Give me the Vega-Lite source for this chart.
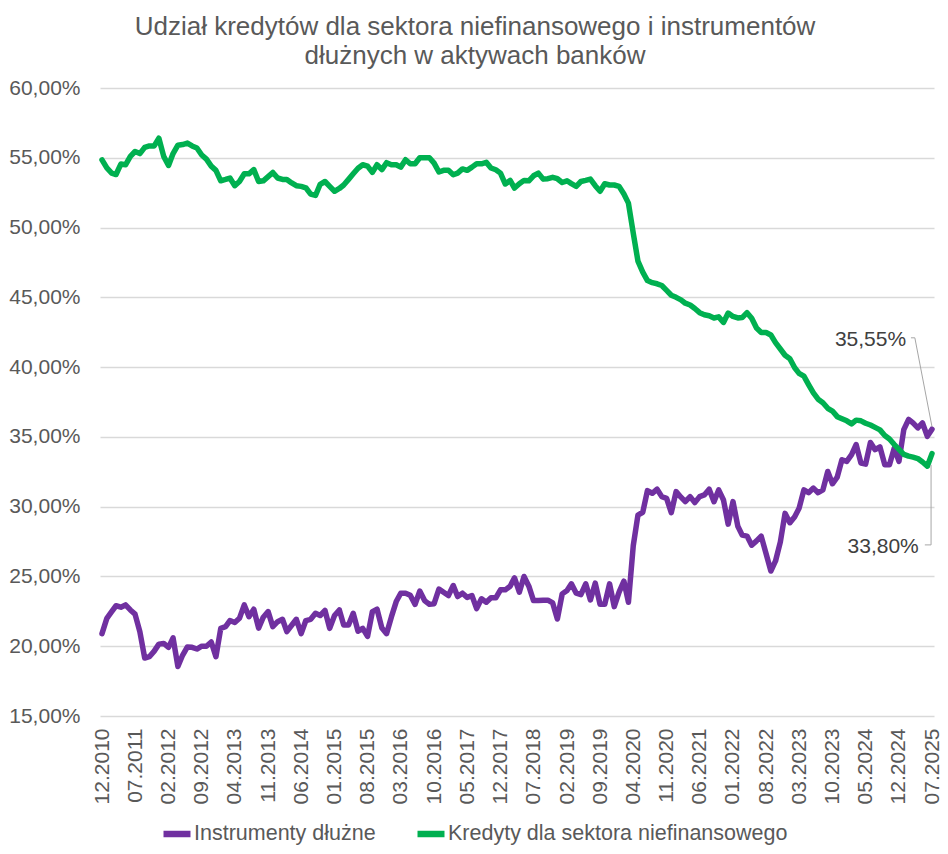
{
  "$schema": "https://vega.github.io/schema/vega-lite/v6.json",
  "width": 834,
  "height": 628,
  "autosize": {"type": "none"},
  "padding": {"left": 100, "top": 88, "right": 14, "bottom": 138},
  "background": "white",
  "config": {
    "font": "Liberation Sans",
    "view": {"stroke": null},
    "axis": {"labelOverlap": false}
  },
  "title": {
    "text": ["Udział kredytów dla sektora niefinansowego i instrumentów", "dłużnych w aktywach banków"],
    "fontSize": 26,
    "fontWeight": "normal",
    "color": "#595959",
    "lineHeight": 29,
    "anchor": "middle",
    "dx": -42,
    "offset": 8
  },
  "datasets": {
    "main": [
      {"d": "2010-12-01", "i": 20.9, "k": 54.85},
      {"d": "2011-01-01", "i": 22.0, "k": 54.27},
      {"d": "2011-02-01", "i": 22.48, "k": 53.9},
      {"d": "2011-03-01", "i": 22.9, "k": 53.8},
      {"d": "2011-04-01", "i": 22.8, "k": 54.55},
      {"d": "2011-05-01", "i": 22.96, "k": 54.5},
      {"d": "2011-06-01", "i": 22.6, "k": 55.1},
      {"d": "2011-07-01", "i": 22.3, "k": 55.45},
      {"d": "2011-08-01", "i": 21.04, "k": 55.3},
      {"d": "2011-09-01", "i": 19.15, "k": 55.75},
      {"d": "2011-10-01", "i": 19.25, "k": 55.85},
      {"d": "2011-11-01", "i": 19.65, "k": 55.85},
      {"d": "2011-12-01", "i": 20.15, "k": 56.4},
      {"d": "2012-01-01", "i": 20.2, "k": 55.1},
      {"d": "2012-02-01", "i": 19.92, "k": 54.45},
      {"d": "2012-03-01", "i": 20.6, "k": 55.3},
      {"d": "2012-04-01", "i": 18.55, "k": 55.9},
      {"d": "2012-05-01", "i": 19.35, "k": 55.95},
      {"d": "2012-06-01", "i": 19.95, "k": 56.05},
      {"d": "2012-07-01", "i": 19.92, "k": 55.85},
      {"d": "2012-08-01", "i": 19.8, "k": 55.7},
      {"d": "2012-09-01", "i": 20.0, "k": 55.2},
      {"d": "2012-10-01", "i": 20.0, "k": 54.9},
      {"d": "2012-11-01", "i": 20.3, "k": 54.4},
      {"d": "2012-12-01", "i": 19.25, "k": 54.1},
      {"d": "2013-01-01", "i": 21.28, "k": 53.35},
      {"d": "2013-02-01", "i": 21.4, "k": 53.45},
      {"d": "2013-03-01", "i": 21.84, "k": 53.55},
      {"d": "2013-04-01", "i": 21.7, "k": 53.0},
      {"d": "2013-05-01", "i": 22.0, "k": 53.3},
      {"d": "2013-06-01", "i": 22.96, "k": 53.85},
      {"d": "2013-07-01", "i": 22.12, "k": 53.85},
      {"d": "2013-08-01", "i": 22.65, "k": 54.15},
      {"d": "2013-09-01", "i": 21.3, "k": 53.3},
      {"d": "2013-10-01", "i": 22.08, "k": 53.35},
      {"d": "2013-11-01", "i": 22.48, "k": 53.65},
      {"d": "2013-12-01", "i": 21.4, "k": 53.95},
      {"d": "2014-01-01", "i": 21.76, "k": 53.55},
      {"d": "2014-02-01", "i": 21.93, "k": 53.45},
      {"d": "2014-03-01", "i": 21.05, "k": 53.45},
      {"d": "2014-04-01", "i": 21.5, "k": 53.2},
      {"d": "2014-05-01", "i": 21.93, "k": 53.0},
      {"d": "2014-06-01", "i": 20.9, "k": 52.95},
      {"d": "2014-07-01", "i": 21.84, "k": 52.85},
      {"d": "2014-08-01", "i": 21.93, "k": 52.4},
      {"d": "2014-09-01", "i": 22.36, "k": 52.3},
      {"d": "2014-10-01", "i": 22.2, "k": 53.1},
      {"d": "2014-11-01", "i": 22.56, "k": 53.3},
      {"d": "2014-12-01", "i": 21.28, "k": 52.95},
      {"d": "2015-01-01", "i": 22.2, "k": 52.6},
      {"d": "2015-02-01", "i": 22.6, "k": 52.8},
      {"d": "2015-03-01", "i": 21.52, "k": 53.05},
      {"d": "2015-04-01", "i": 21.52, "k": 53.45},
      {"d": "2015-05-01", "i": 22.36, "k": 53.85},
      {"d": "2015-06-01", "i": 21.07, "k": 54.25},
      {"d": "2015-07-01", "i": 21.28, "k": 54.5},
      {"d": "2015-08-01", "i": 20.7, "k": 54.4},
      {"d": "2015-09-01", "i": 22.48, "k": 53.95},
      {"d": "2015-10-01", "i": 22.65, "k": 54.5},
      {"d": "2015-11-01", "i": 21.3, "k": 54.15},
      {"d": "2015-12-01", "i": 20.9, "k": 54.65},
      {"d": "2016-01-01", "i": 22.1, "k": 54.5},
      {"d": "2016-02-01", "i": 23.2, "k": 54.5},
      {"d": "2016-03-01", "i": 23.8, "k": 54.33},
      {"d": "2016-04-01", "i": 23.8, "k": 54.86},
      {"d": "2016-05-01", "i": 23.65, "k": 54.57},
      {"d": "2016-06-01", "i": 23.0, "k": 54.57},
      {"d": "2016-07-01", "i": 23.95, "k": 55.0},
      {"d": "2016-08-01", "i": 23.27, "k": 55.0},
      {"d": "2016-09-01", "i": 23.0, "k": 55.0},
      {"d": "2016-10-01", "i": 23.05, "k": 54.62},
      {"d": "2016-11-01", "i": 24.1, "k": 53.98},
      {"d": "2016-12-01", "i": 23.87, "k": 54.1},
      {"d": "2017-01-01", "i": 23.63, "k": 54.1},
      {"d": "2017-02-01", "i": 24.35, "k": 53.78},
      {"d": "2017-03-01", "i": 23.56, "k": 53.9},
      {"d": "2017-04-01", "i": 23.8, "k": 54.2},
      {"d": "2017-05-01", "i": 23.5, "k": 54.1},
      {"d": "2017-06-01", "i": 23.63, "k": 54.33},
      {"d": "2017-07-01", "i": 22.7, "k": 54.57},
      {"d": "2017-08-01", "i": 23.4, "k": 54.57},
      {"d": "2017-09-01", "i": 23.15, "k": 54.67},
      {"d": "2017-10-01", "i": 23.47, "k": 54.27},
      {"d": "2017-11-01", "i": 23.47, "k": 54.14},
      {"d": "2017-12-01", "i": 24.04, "k": 53.9},
      {"d": "2018-01-01", "i": 24.04, "k": 53.12},
      {"d": "2018-02-01", "i": 24.3, "k": 53.38},
      {"d": "2018-03-01", "i": 24.9, "k": 52.83},
      {"d": "2018-04-01", "i": 23.87, "k": 53.14},
      {"d": "2018-05-01", "i": 25.0, "k": 53.38},
      {"d": "2018-06-01", "i": 24.3, "k": 53.35},
      {"d": "2018-07-01", "i": 23.27, "k": 53.71},
      {"d": "2018-08-01", "i": 23.27, "k": 53.9},
      {"d": "2018-09-01", "i": 23.3, "k": 53.47},
      {"d": "2018-10-01", "i": 23.3, "k": 53.5},
      {"d": "2018-11-01", "i": 23.1, "k": 53.6},
      {"d": "2018-12-01", "i": 21.95, "k": 53.5},
      {"d": "2019-01-01", "i": 23.75, "k": 53.23},
      {"d": "2019-02-01", "i": 24.0, "k": 53.35},
      {"d": "2019-03-01", "i": 24.47, "k": 53.15},
      {"d": "2019-04-01", "i": 23.8, "k": 52.95},
      {"d": "2019-05-01", "i": 23.7, "k": 53.3},
      {"d": "2019-06-01", "i": 24.47, "k": 53.38},
      {"d": "2019-07-01", "i": 23.32, "k": 53.47},
      {"d": "2019-08-01", "i": 24.52, "k": 53.0},
      {"d": "2019-09-01", "i": 23.0, "k": 52.6},
      {"d": "2019-10-01", "i": 23.0, "k": 53.14},
      {"d": "2019-11-01", "i": 24.47, "k": 53.05},
      {"d": "2019-12-01", "i": 22.84, "k": 53.05},
      {"d": "2020-01-01", "i": 23.87, "k": 52.95},
      {"d": "2020-02-01", "i": 24.66, "k": 52.4},
      {"d": "2020-03-01", "i": 23.15, "k": 51.75},
      {"d": "2020-04-01", "i": 27.2, "k": 49.6},
      {"d": "2020-05-01", "i": 29.4, "k": 47.6},
      {"d": "2020-06-01", "i": 29.6, "k": 46.8},
      {"d": "2020-07-01", "i": 31.15, "k": 46.2},
      {"d": "2020-08-01", "i": 30.96, "k": 46.05},
      {"d": "2020-09-01", "i": 31.25, "k": 45.97},
      {"d": "2020-10-01", "i": 30.72, "k": 45.85},
      {"d": "2020-11-01", "i": 30.6, "k": 45.5},
      {"d": "2020-12-01", "i": 29.57, "k": 45.15},
      {"d": "2021-01-01", "i": 31.08, "k": 45.0},
      {"d": "2021-02-01", "i": 30.68, "k": 44.82},
      {"d": "2021-03-01", "i": 30.36, "k": 44.58},
      {"d": "2021-04-01", "i": 30.72, "k": 44.45},
      {"d": "2021-05-01", "i": 30.29, "k": 44.2},
      {"d": "2021-06-01", "i": 30.72, "k": 43.9},
      {"d": "2021-07-01", "i": 30.84, "k": 43.75},
      {"d": "2021-08-01", "i": 31.25, "k": 43.68},
      {"d": "2021-09-01", "i": 30.36, "k": 43.52},
      {"d": "2021-10-01", "i": 31.2, "k": 43.6},
      {"d": "2021-11-01", "i": 30.48, "k": 43.2},
      {"d": "2021-12-01", "i": 28.75, "k": 43.87},
      {"d": "2022-01-01", "i": 30.36, "k": 43.63},
      {"d": "2022-02-01", "i": 28.6, "k": 43.52},
      {"d": "2022-03-01", "i": 27.96, "k": 43.55},
      {"d": "2022-04-01", "i": 27.89, "k": 43.9},
      {"d": "2022-05-01", "i": 27.24, "k": 43.5},
      {"d": "2022-06-01", "i": 27.55, "k": 42.8},
      {"d": "2022-07-01", "i": 27.89, "k": 42.48},
      {"d": "2022-08-01", "i": 26.64, "k": 42.48},
      {"d": "2022-09-01", "i": 25.39, "k": 42.3},
      {"d": "2022-10-01", "i": 26.11, "k": 41.75},
      {"d": "2022-11-01", "i": 27.48, "k": 41.3},
      {"d": "2022-12-01", "i": 29.52, "k": 40.85},
      {"d": "2023-01-01", "i": 28.85, "k": 40.6},
      {"d": "2023-02-01", "i": 29.28, "k": 39.95},
      {"d": "2023-03-01", "i": 29.88, "k": 39.55},
      {"d": "2023-04-01", "i": 31.2, "k": 39.35},
      {"d": "2023-05-01", "i": 31.0, "k": 38.75},
      {"d": "2023-06-01", "i": 31.33, "k": 38.15},
      {"d": "2023-07-01", "i": 31.0, "k": 37.7},
      {"d": "2023-08-01", "i": 31.2, "k": 37.45},
      {"d": "2023-09-01", "i": 32.52, "k": 37.05},
      {"d": "2023-10-01", "i": 31.64, "k": 36.85},
      {"d": "2023-11-01", "i": 32.12, "k": 36.45},
      {"d": "2023-12-01", "i": 33.36, "k": 36.3},
      {"d": "2024-01-01", "i": 33.24, "k": 36.15},
      {"d": "2024-02-01", "i": 33.73, "k": 35.93},
      {"d": "2024-03-01", "i": 34.45, "k": 36.2},
      {"d": "2024-04-01", "i": 33.12, "k": 36.15},
      {"d": "2024-05-01", "i": 33.05, "k": 35.98},
      {"d": "2024-06-01", "i": 34.6, "k": 35.85},
      {"d": "2024-07-01", "i": 34.08, "k": 35.68},
      {"d": "2024-08-01", "i": 34.28, "k": 35.5},
      {"d": "2024-09-01", "i": 33.0, "k": 35.1},
      {"d": "2024-10-01", "i": 33.0, "k": 34.85},
      {"d": "2024-11-01", "i": 34.2, "k": 34.45},
      {"d": "2024-12-01", "i": 33.24, "k": 34.1},
      {"d": "2025-01-01", "i": 35.52, "k": 33.75},
      {"d": "2025-02-01", "i": 36.25, "k": 33.62},
      {"d": "2025-03-01", "i": 36.0, "k": 33.55},
      {"d": "2025-04-01", "i": 35.64, "k": 33.45},
      {"d": "2025-05-01", "i": 36.0, "k": 33.2},
      {"d": "2025-06-01", "i": 35.04, "k": 32.9},
      {"d": "2025-07-01", "i": 35.55, "k": 33.8}
    ],
    "labels": [
      {"d": "2025-01-16", "v": 41.96, "t": "35,55%"},
      {"d": "2025-04-07", "v": 27.12, "t": "33,80%"}
    ],
    "leaders": [
      {"g": "a", "o": 1, "d": "2025-02-16", "v": 42.1},
      {"g": "a", "o": 2, "d": "2025-03-13", "v": 42.1},
      {"g": "a", "o": 3, "d": "2025-07-01", "v": 35.72},
      {"g": "b", "o": 1, "d": "2025-05-16", "v": 27.26},
      {"g": "b", "o": 2, "d": "2025-06-25", "v": 27.26},
      {"g": "b", "o": 3, "d": "2025-06-25", "v": 33.0}
    ]
  },
  "layer": [
    {
      "data": {"name": "main"},
      "transform": [{"fold": ["i", "k"], "as": ["s", "v"]}],
      "mark": {"type": "line", "strokeWidth": 5.5, "strokeCap": "round", "strokeJoin": "round"},
      "encoding": {
        "x": {
          "field": "d",
          "type": "temporal",
          "scale": {"type": "utc", "padding": 2},
          "axis": {
            "title": null,
            "format": "%m.%Y",
            "tickCount": 40,
            "values": [
              {"year": 2010, "month": 12, "date": 1, "utc": true},
              {"year": 2011, "month": 7, "date": 1, "utc": true},
              {"year": 2012, "month": 2, "date": 1, "utc": true},
              {"year": 2012, "month": 9, "date": 1, "utc": true},
              {"year": 2013, "month": 4, "date": 1, "utc": true},
              {"year": 2013, "month": 11, "date": 1, "utc": true},
              {"year": 2014, "month": 6, "date": 1, "utc": true},
              {"year": 2015, "month": 1, "date": 1, "utc": true},
              {"year": 2015, "month": 8, "date": 1, "utc": true},
              {"year": 2016, "month": 3, "date": 1, "utc": true},
              {"year": 2016, "month": 10, "date": 1, "utc": true},
              {"year": 2017, "month": 5, "date": 1, "utc": true},
              {"year": 2017, "month": 12, "date": 1, "utc": true},
              {"year": 2018, "month": 7, "date": 1, "utc": true},
              {"year": 2019, "month": 2, "date": 1, "utc": true},
              {"year": 2019, "month": 9, "date": 1, "utc": true},
              {"year": 2020, "month": 4, "date": 1, "utc": true},
              {"year": 2020, "month": 11, "date": 1, "utc": true},
              {"year": 2021, "month": 6, "date": 1, "utc": true},
              {"year": 2022, "month": 1, "date": 1, "utc": true},
              {"year": 2022, "month": 8, "date": 1, "utc": true},
              {"year": 2023, "month": 3, "date": 1, "utc": true},
              {"year": 2023, "month": 10, "date": 1, "utc": true},
              {"year": 2024, "month": 5, "date": 1, "utc": true},
              {"year": 2024, "month": 12, "date": 1, "utc": true},
              {"year": 2025, "month": 7, "date": 1, "utc": true}
            ],
            "labelAngle": -90,
            "labelFontSize": 21,
            "labelColor": "#595959",
            "labelPadding": 12,
            "labelOverlap": false,
            "labelSeparation": 0,
            "ticks": false,
            "domain": false,
            "grid": false
          }
        },
        "y": {
          "field": "v",
          "type": "quantitative",
          "scale": {"domain": [15, 60], "nice": false, "zero": false},
          "axis": {
            "title": null,
            "values": [15, 20, 25, 30, 35, 40, 45, 50, 55, 60],
            "labelExpr": "replace(format(datum.value, '.2f'), '.', ',') + '%'",
            "labelFontSize": 21,
            "labelColor": "#595959",
            "labelPadding": 20,
            "ticks": false,
            "domain": false,
            "gridColor": "#d9d9d9",
            "gridWidth": 1.3
          }
        },
        "color": {
          "field": "s",
          "type": "nominal",
          "scale": {"domain": ["i", "k"], "range": ["#7030a0", "#00b050"]},
          "legend": {
            "title": null,
            "orient": "none",
            "direction": "horizontal",
            "legendX": 60,
            "legendY": 729,
            "labelExpr": "datum.label == 'i' ? 'Instrumenty dłużne' : 'Kredyty dla sektora niefinansowego'",
            "labelFontSize": 21.5,
            "labelColor": "#595959",
            "labelLimit": 600,
            "labelOffset": 0,
            "columnPadding": 28,
            "symbolType": "stroke",
            "symbolSize": 729,
            "symbolStrokeWidth": 6.5
          }
        }
      }
    },
    {
      "data": {"name": "leaders"},
      "mark": {"type": "line", "color": "#a6a6a6", "strokeWidth": 1},
      "encoding": {
        "x": {"field": "d", "type": "temporal"},
        "y": {"field": "v", "type": "quantitative"},
        "detail": {"field": "g"},
        "order": {"field": "o"}
      }
    },
    {
      "data": {"name": "labels"},
      "mark": {"type": "text", "align": "right", "baseline": "middle", "fontSize": 21, "color": "#404040"},
      "encoding": {
        "x": {"field": "d", "type": "temporal"},
        "y": {"field": "v", "type": "quantitative"},
        "text": {"field": "t"}
      }
    }
  ]
}
